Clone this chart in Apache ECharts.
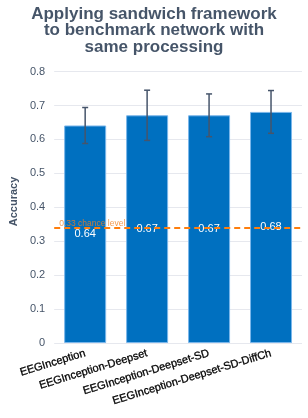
<!DOCTYPE html>
<html><head><meta charset="utf-8">
<script src="https://cdn.jsdelivr.net/npm/echarts@6/dist/echarts.min.js"></script>
<style>html,body{margin:0;padding:0;background:#fff}#c{width:308px;height:418px}</style>
</head><body><div id="c"></div>
<script>
var categories = ['EEGInception', 'EEGInception-Deepset', 'EEGInception-Deepset-SD', 'EEGInception-Deepset-SD-DiffCh'];
var accuracy = [0.641, 0.671, 0.671, 0.681];
var errors = [0.053, 0.074, 0.063, 0.063];
var chanceLevel = 0.336;
var chanceLabel = '0.33 chance level';
var yTicks = [0, 0.1, 0.2, 0.3, 0.4, 0.5, 0.6, 0.7, 0.8];

var chart = echarts.init(document.getElementById('c'));
var font = 'Liberation Sans, Arial, sans-serif';
chart.setOption({
  animation: false,
  backgroundColor: '#fff',
  title: {
    text: 'Applying sandwich framework\nto benchmark network with\nsame processing',
    left: 'center', top: 1,
    textStyle: {fontFamily: font, fontSize: 17, fontWeight: 'bold', color: '#465569', lineHeight: 16.5}
  },
  grid: {left: 44, right: 6, top: 60, bottom: 75},
  xAxis: {
    type: 'category', data: categories,
    axisLine: {show: false}, axisTick: {show: false},
    axisLabel: {rotate: 17, interval: 0, margin: 10, fontFamily: font, fontSize: 11, fontWeight: 'normal', color: '#000',
      textBorderColor: '#000', textBorderWidth: 0.3}
  },
  yAxis: {
    type: 'value', min: 0, max: 0.834, interval: 0.1,
    name: 'Accuracy', nameLocation: 'middle', nameGap: 30,
    nameTextStyle: {fontFamily: font, fontSize: 11, fontWeight: 'bold', color: '#465569'},
    axisLine: {show: false}, axisTick: {show: false},
    axisLabel: {showMaxLabel: false, fontFamily: font, fontSize: 11, color: '#465569', margin: 9,
      formatter: function (v) { return yTicks.indexOf(Math.round(v * 10) / 10) >= 0 ? (v === 0 ? '0' : v.toFixed(1)) : ''; }},
    splitLine: {showMaxLine: false, lineStyle: {color: '#e6e8ee', width: 1}}
  },
  series: [
    {
      type: 'bar', data: accuracy, barWidth: 42,
      itemStyle: {color: '#0070c0', borderColor: '#7ab6ea', borderWidth: 1},
      label: {show: true, position: 'inside', color: '#fff', fontFamily: font, fontSize: 11,
        formatter: function (p) { return p.value.toFixed(2); }},
      markLine: {
        silent: true, symbol: 'none',
        lineStyle: {color: '#ff7f0e', type: [6, 4], width: 2},
        label: {show: false},
        data: [{yAxis: chanceLevel}]
      },
      z: 2
    },
    {
      type: 'custom', z: 5,
      data: accuracy.map(function (v, i) { return [i, v - errors[i], v + errors[i]]; }),
      renderItem: function (params, api) {
        var lo = api.coord([api.value(0), api.value(1)]);
        var hi = api.coord([api.value(0), api.value(2)]);
        var x = lo[0], hw = 3;
        var st = {stroke: '#46556b', lineWidth: 1.5};
        return {type: 'group', children: [
          {type: 'line', shape: {x1: x, y1: lo[1], x2: x, y2: hi[1]}, style: st},
          {type: 'line', shape: {x1: x - hw, y1: lo[1], x2: x + hw, y2: lo[1]}, style: st},
          {type: 'line', shape: {x1: x - hw, y1: hi[1], x2: x + hw, y2: hi[1]}, style: st}
        ]};
      }
    },
    {
      type: 'scatter', data: [[0, chanceLevel]], symbolSize: 0, silent: true, z: 6,
      label: {show: true, formatter: chanceLabel, position: [-26, -10], color: '#f07f20', fontFamily: font, fontSize: 8.5, align: 'left'}
    }
  ]
});
</script></body></html>
